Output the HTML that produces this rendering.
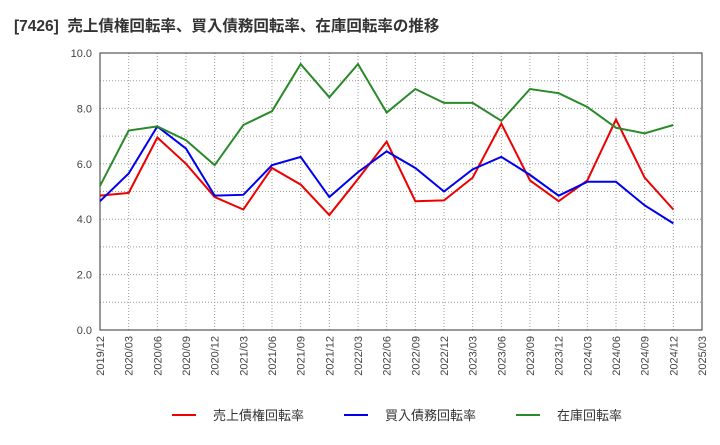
<!DOCTYPE html>
<html><head><meta charset="utf-8"><style>
body{margin:0;background:#fff;font-family:"Liberation Sans","Noto Sans CJK JP",sans-serif;}
</style></head><body>
<svg id="chart" width="720" height="440" xmlns="http://www.w3.org/2000/svg">
<text x="14" y="31" font-size="15.5" font-weight="bold" fill="#333" xml:space="preserve">[7426]  売上債権回転率、買入債務回転率、在庫回転率の推移</text>
<g id="grid"></g><g id="axes"></g><g id="series"></g><g id="legend"></g>
</svg>
<script>
const categories=["2019/12","2020/03","2020/06","2020/09","2020/12","2021/03","2021/06","2021/09","2021/12","2022/03","2022/06","2022/09","2022/12","2023/03","2023/06","2023/09","2023/12","2024/03","2024/06","2024/09","2024/12","2025/03"];
const yTicks=[0,2,4,6,8,10];
const receivables=[4.85,4.95,6.95,6.0,4.8,4.35,5.85,5.25,4.15,5.45,6.8,4.65,4.68,5.5,7.45,5.4,4.65,5.4,7.6,5.5,4.35];
const payables=[4.65,5.65,7.35,6.55,4.85,4.88,5.95,6.25,4.8,5.7,6.45,5.85,5.0,5.8,6.25,5.6,4.85,5.35,5.35,4.5,3.85];
const inventory=[5.2,7.2,7.35,6.85,5.95,7.4,7.9,9.6,8.4,9.6,7.85,8.7,8.2,8.2,7.55,8.7,8.55,8.05,7.3,7.1,7.4];
const NS="http://www.w3.org/2000/svg";
const L=100,R=702,T=53,B=330;
const x=i=>L+(R-L)*i/(categories.length-1);
const y=v=>B-(B-T)*v/10;
function mk(tag,attrs,parent){const e=document.createElementNS(NS,tag);for(const k in attrs)e.setAttribute(k,attrs[k]);document.getElementById(parent).appendChild(e);return e;}
for(let i=0;i<categories.length;i++){
 const g=mk('line',{x1:x(i),x2:x(i),y1:T,y2:B,stroke:'#999','stroke-dasharray':'1,2','stroke-width':1},'grid');
 
 
 const t=mk('text',{transform:`translate(${x(i)+4},${B+6}) rotate(-90)`,'font-size':11,fill:'#444','text-anchor':'end'},'axes');
 t.textContent=categories[i];
 
 
}
for(let v=1;v<10;v++){
 const g=mk('line',{x1:L,x2:R,y1:y(v),y2:y(v),stroke:'#999','stroke-dasharray':'1,2','stroke-width':1},'grid');
 
 
}
yTicks.forEach(v=>{
 const t=mk('text',{x:L-8,y:y(v)+4,'font-size':11,fill:'#444','text-anchor':'end'},'axes');
 t.textContent=v.toFixed(1);
 
 
});
const frame=mk('rect',{x:L,y:T,width:R-L,height:B-T,fill:'none',stroke:'#333','stroke-width':1},'axes');


const series=[[receivables,'#e00','receivables-line','売上債権回転率'],[payables,'#00e','payables-line','買入債務回転率'],[inventory,'#2a8a2a','inventory-line','在庫回転率']];
series.forEach(([d,c,n])=>{
 const p=mk('polyline',{points:d.map((v,i)=>x(i)+','+y(v)).join(' '),fill:'none',stroke:c,'stroke-width':2},'series');
 
 
});
const lx=[172,344,516];
series.forEach(([d,c,n,lab],k)=>{
 const l=mk('line',{x1:lx[k],x2:lx[k]+24,y1:415,y2:415,stroke:c,'stroke-width':2},'legend');
 
 
 const t=mk('text',{x:lx[k]+41,y:420,'font-size':13,fill:'#333'},'legend');
 t.textContent=lab;
 
 
});
</script>
</body></html>
